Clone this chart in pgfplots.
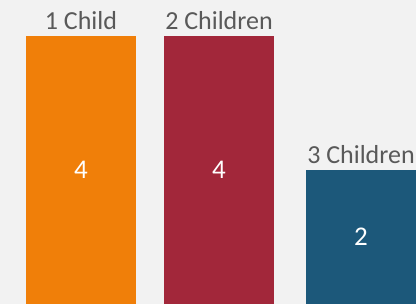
\documentclass[border=0pt]{standalone}
\usepackage{pgfplots}
\pgfplotsset{compat=1.18}
\usepackage{fontspec}
\setmainfont{Carlito}
\definecolor{bg}{HTML}{F2F2F2}
\definecolor{c1}{HTML}{F07F09}
\definecolor{c2}{HTML}{A2273A}
\definecolor{c3}{HTML}{1C587A}
\definecolor{txt}{HTML}{595959}
\begin{document}
\begin{tikzpicture}
\useasboundingbox (0,0) rectangle (416bp,304bp);
\clip (0,0) rectangle (416bp,304bp);
\fill[bg] (0,0) rectangle (416bp,304bp);
\begin{axis}[
  at={(0,0)}, anchor=south west,
  scale only axis, width=416bp, height=304bp,
  xmin=0, xmax=416, ymin=0, ymax=4.545,
  axis lines=none,
  ybar, bar width=110, bar shift=0pt,
  nodes near coords={\pgfplotspointmeta},
  point meta=explicit symbolic,
  every node near coord/.append style={font=\fontsize{26bp}{28bp}\selectfont, text=txt, anchor=south, yshift=3.5bp},
  clip=false,
]
\addplot[fill=c1, draw=none] coordinates {(81,4) [1 Child]};
\addplot[fill=c2, draw=none] coordinates {(219,4) [2 Children]};
\addplot[fill=c3, draw=none] coordinates {(361,2) [3 Children]};
\node[text=white, font=\fontsize{27bp}{29bp}\selectfont] at (axis cs:81,2) {4};
\node[text=white, font=\fontsize{27bp}{29bp}\selectfont] at (axis cs:219,2) {4};
\node[text=white, font=\fontsize{27bp}{29bp}\selectfont] at (axis cs:361,1) {2};
\end{axis}
\end{tikzpicture}
\end{document}
